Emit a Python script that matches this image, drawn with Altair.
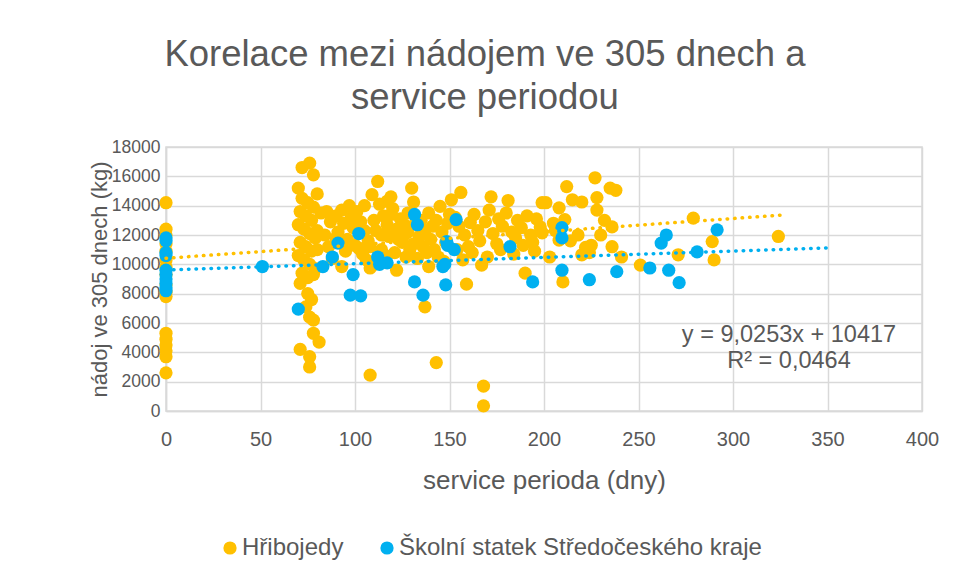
import altair as alt
import pandas as pd

# ---------------- data ----------------
series_names = ["Hřibojedy", "Školní statek Středočeského kraje"]
series_colors = ["#FFC000", "#00B0F0"]

hrib_x = [0, 0, 0, 0, 0, 0, 0, 0, 0, 0, 0, 0, 0, 0, 0, 0, 0,
          72, 76, 78, 70, 80, 72, 75, 78, 71, 74, 77, 70, 73, 76, 79, 71, 74, 77, 70, 73,
          76, 79, 72, 75, 71, 75, 77, 74, 76, 78, 78, 81, 71, 76, 76, 80, 80, 78, 82,
          85, 87, 84, 86, 90, 93, 97, 94, 98, 91, 96, 99, 93, 88, 95, 100, 90,
          101, 103, 105, 107, 109, 112, 113, 115, 117, 119, 118, 120, 122, 124, 125, 126,
          128, 130, 131, 132, 134, 135, 137, 139, 140, 141, 143, 145, 146, 148, 149, 150,
          102, 104, 106, 108, 110, 111, 114, 116, 121, 123, 127, 129, 133, 136, 138, 142,
          144, 147, 108, 122, 139, 137, 108, 143, 110, 114, 119, 126, 131, 105, 117, 128,
          151, 153, 155, 156, 158, 159, 160, 161, 163, 165, 166, 167, 168, 168, 169, 171,
          172, 173, 175, 176, 178, 180, 181, 183, 185, 186, 188, 190, 191, 193, 194, 196,
          198, 199, 199, 154, 157, 162, 170, 177, 184, 189, 195,
          201, 203, 205, 208, 208, 210, 211, 212, 215, 218, 220, 220, 222, 225, 227, 228,
          228, 230, 232, 235, 236, 236, 238, 241, 206, 214, 224,
          251, 271, 279, 289, 290, 324]
hrib_y = [14200, 12400, 12000, 11400, 10900, 10300, 9800, 9300, 8600, 8100, 7800, 5300, 4900, 4500, 4100, 3700, 2600,
          16600, 16900, 16100, 15200, 14800, 14500, 14200, 13900, 13600, 13300, 13000, 12700, 12400, 12100, 11800, 11500, 11200, 10900, 10600, 10300,
          10000, 9700, 9400, 9100, 8700, 8000, 7600, 7100, 6400, 6200, 5300, 4700, 4200, 3700, 3000, 12300, 11000, 9300, 13500,
          13600, 12900, 12000, 11200, 13300, 13700, 14000, 12800, 13200, 12200, 11700, 12500, 9850, 10400, 10900, 11300, 11800,
          13600, 12900, 12300, 11600, 14750, 15650, 14100, 13300, 12700, 14600, 11900, 13800, 12400, 13100, 11500, 12000,
          13500, 15200, 14250, 12800, 11900, 13000, 12300, 13500, 11700, 12600, 13000, 13950, 12200, 11500, 12800, 13400,
          11100, 10700, 10300, 11200, 10000, 12300, 11000, 10600, 10800, 11700, 10500, 11000, 10400, 11200, 10800, 11000,
          10500, 10200, 9750, 9600, 9850, 7100, 2450, 3300, 13000, 12000, 13400, 12700, 11400, 14000, 14300, 12200,
          14400, 13200, 12600, 14900, 12000, 8650, 11200, 12850, 13400, 12300, 11600, 9950, 1700, 350, 12900, 13700,
          14600, 12100, 11400, 13100, 12600, 13500, 14350, 12200, 11800, 13000, 12500, 9400, 13300, 12000, 11500, 13100,
          12550, 14200, 12150, 11000, 10300, 10800, 10500, 11000, 10700, 11300, 10900,
          14200, 10500, 12800, 13850, 11650, 8800, 13050, 15300, 14400, 12000, 14250, 10650, 11150, 11300, 15900, 14550,
          13700, 12000, 13000, 15200, 12550, 11200, 15050, 10500, 12300, 11600, 10800,
          9950, 10650, 13150, 11550, 10300, 11900]

skol_x = [0, 0, 0, 0, 0, 0, 0, 0, 0, 0,
          51, 70, 83, 88, 91, 97.5, 103, 99, 102, 112, 117, 113, 131.5, 133, 131.5, 136,
          148.5, 146.5, 148, 153.5, 149, 152.5, 147.5, 182, 194, 209.5, 209.5, 209.5, 224,
          238.5, 256, 262, 264.7, 266, 271.5, 281, 291.6]
skol_y = [11800, 11600, 10800, 10600, 9600, 9300, 9000, 8700, 8400, 8200,
          9850, 6950, 9850, 10500, 11450, 7900, 7850, 9300, 12100, 10500, 10100, 10000, 13400, 12700, 8800, 7900,
          11550, 9850, 8600, 13050, 11300, 11000, 10000, 11200, 8800, 12500, 11800, 9600, 8950,
          9500, 9750, 11450, 12000, 9600, 8750, 10850, 12350]

# linear trendlines (Excel): slope, intercept, x range
trend_slope = [9.0253, 4.3]
trend_intercept = [10417, 9620]
trend_xmax = [325, 350]

eq_line1 = "y = 9,0253x + 10417"
eq_line2 = "R² = 0,0464"

title_lines = ["Korelace mezi nádojem ve 305 dnech a", "service periodou"]
x_title = "service perioda (dny)"
y_title = "nádoj ve 305 dnech (kg)"
x_ticks = [0, 50, 100, 150, 200, 250, 300, 350, 400]
y_ticks = [0, 2000, 4000, 6000, 8000, 10000, 12000, 14000, 16000, 18000]

# ---------------- tables ----------------
pts = pd.concat([
    pd.DataFrame({"x": hrib_x, "y": hrib_y, "series": series_names[0]}),
    pd.DataFrame({"x": skol_x, "y": skol_y, "series": series_names[1]}),
], ignore_index=True)
pts["order"] = range(len(pts))

trend_rows = []
for name, col, m, b, xm in zip(series_names, series_colors, trend_slope, trend_intercept, trend_xmax):
    for xv in (0, xm):
        trend_rows.append({"x": xv, "y": b + m * xv, "series": name, "col": col})
trend = pd.DataFrame(trend_rows)

GREY = "#595959"
FONT = "Liberation Sans"
W, H = 756, 264

xenc = alt.X("x:Q", scale=alt.Scale(domain=[0, 400], nice=False),
             axis=alt.Axis(values=x_ticks, title=x_title, format="d", labelOverlap=False,
                           labelFlush=False,
                           labelFontSize=20, titleFontSize=26, labelPadding=18, titlePadding=18))
yenc = alt.Y("y:Q", scale=alt.Scale(domain=[0, 18000], nice=False),
             axis=alt.Axis(values=y_ticks, title=y_title, format="d", labelOverlap=False,
                           labelFlush=False,
                           labelFontSize=17.5, titleFontSize=22, labelPadding=6, titlePadding=0))

points = alt.Chart(pts).mark_circle(size=175, opacity=1).encode(
    x=xenc, y=yenc,
    color=alt.Color("series:N", scale=alt.Scale(domain=series_names, range=series_colors),
                    legend=alt.Legend(title=None, orient="none", direction="horizontal",
                                      legendX=52, legendY=389, symbolType="circle",
                                      symbolSize=175, labelFontSize=24, labelColor=GREY,
                                      labelFont=FONT, columnPadding=31, labelOffset=0,
                                      labelLimit=600, symbolStrokeWidth=0)),
    order=alt.Order("order:Q"),
)

lines = alt.Chart(trend).mark_line(strokeDash=[0.5, 7], strokeWidth=3.5, strokeCap="round").encode(
    x=xenc, y=yenc, detail="series:N",
    color=alt.Color("col:N", scale=None),
)

eq_df = pd.DataFrame({"t1": [eq_line1], "t2": [eq_line2]})
eq1 = alt.Chart(eq_df).mark_text(fontSize=23.5, color=GREY, font=FONT, align="center", baseline="middle").encode(
    x=alt.value(623), y=alt.value(188), text="t1:N")
eq2 = alt.Chart(eq_df).mark_text(fontSize=23.5, color=GREY, font=FONT, align="center", baseline="middle").encode(
    x=alt.value(623), y=alt.value(214), text="t2:N")

chart = alt.layer(points, lines, eq1, eq2).properties(
    width=W, height=H,
    background="white",
    title=alt.TitleParams(text=title_lines, fontSize=36.5, font=FONT, fontWeight="normal",
                          color=GREY, anchor="middle", dx=-59, offset=22, lineHeight=43),
    autosize=alt.AutoSizeParams(type="none"),
    padding={"left": 158, "top": 139, "right": 24, "bottom": 156},
).configure_view(stroke="#D9D9D9", strokeWidth=1.5).configure_axis(
    labelFont=FONT, titleFont=FONT, labelColor=GREY, titleColor=GREY,
    titleFontWeight="normal",
    gridColor="#D9D9D9", gridWidth=1.5, domainColor="#D9D9D9", domainWidth=1.5,
    ticks=False,
)

chart.save("out.html", embed_options={"renderer": "svg", "actions": False})
